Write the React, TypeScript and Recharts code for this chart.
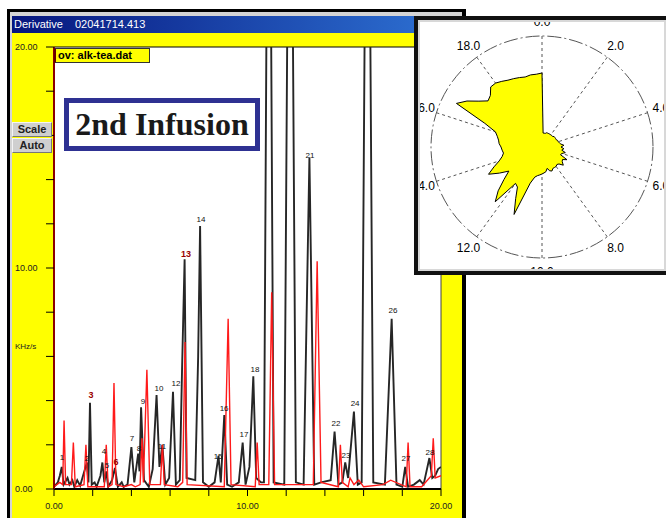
import React from "react";
import {
  ComposedChart,
  Line,
  Scatter,
  XAxis,
  YAxis,
  CartesianGrid,
  ReferenceLine,
  RadarChart,
  Radar,
  PolarGrid,
  PolarAngleAxis,
  PolarRadiusAxis,
} from "recharts";

// black trace: retention time (min) / derivative (KHz/s)
const blackTimes = [
  0, 0.2, 0.3, 0.4, 0.5, 0.7, 0.8, 0.95, 1.05, 1.2, 1.35, 1.5,
  1.7, 1.78, 1.86, 1.95, 2.1, 2.2, 2.4, 2.5, 2.6, 2.7, 2.8, 3.0, 3.15, 3.3,
  3.5, 3.6, 3.8, 4.0, 4.15, 4.35, 4.42, 4.5, 4.65, 4.9, 5.1, 5.3, 5.45, 5.6, 5.75,
  5.95, 6.15, 6.3, 6.5, 6.62, 6.75, 6.85, 7.3, 7.45, 7.55, 7.7, 8.0,
  8.3, 8.5, 8.62, 8.8, 8.95, 9.2, 9.55, 9.75, 9.9, 10.1, 10.3, 10.45, 10.7,
  10.85, 11.1, 11.35, 11.9, 12.2, 12.5, 12.9, 13.2, 13.45, 13.8,
  14.3, 14.5, 14.7, 14.9, 15.05, 15.2, 15.5, 15.7, 15.9, 16.2, 16.5,
  17.1, 17.45, 17.7, 18.0, 18.15, 18.3, 18.6, 18.9, 19.1, 19.4, 19.55, 19.7, 19.85, 20,
];
const blackValues = [
  0.1, 0.3, 0.6, 1.0, 0.2, 0.5, 0.2, 0.4, 0.1, 0.4, 0.15, 0.6,
  1.2, 0.3, 3.9, 0.2, 0.3, 0.1, 0.6, 1.2, 0.3, 0.8, 0.1, 0.4, 0.95, 0.1,
  0.3, 0.1, 0.2, 1.9, 0.3, 1.6, 0.8, 3.7, 0.4, 0.1, 0.9, 4.25, 1.0, 2.0, 0.2,
  0.5, 4.4, 0.2, 0.4, 5.5, 10.4, 0.5, 0.4, 6.0, 11.9, 0.3, 0.1,
  0.3, 1.5, 0.3, 3.35, 0.2, 0.1, 0.3, 2.1, 0.2, 1.0, 5.1, 0.5, 0.3,
  0.3, 40, 0.3, 0.2, 40, 0.3, 0.2, 15.0, 0.2, 0.3,
  0.4, 2.6, 0.2, 0.3, 1.2, 0.5, 3.5, 0.2, 0.3, 40, 0.3,
  0.2, 7.7, 0.2, 0.1, 1.0, 0.1, 0.2, 0.4, 0.2, 1.4, 0.5, 0.6, 0.9, 1.0,
];

// red trace
const redTimes = [
  0, 0.3, 0.45, 0.52, 0.6, 0.9, 1.0, 1.1, 1.55, 1.65, 1.75, 2.0,
  2.6, 2.7, 2.8, 3.0, 3.1, 3.2, 3.6, 4.0, 4.2, 4.45, 4.55, 4.62, 4.8, 4.95,
  5.5, 5.6, 5.7, 6.4, 6.65, 6.77, 6.88, 8.8, 9.0, 9.15, 10.4, 10.5, 10.6,
  11.1, 11.25, 11.4, 13.4, 13.6, 13.8, 14.7, 14.8, 14.9,
  15.2, 15.3, 15.5, 15.75, 16.0, 17.0, 17.4, 18.2, 18.3, 18.4, 19.0, 19.5, 19.6, 19.7, 20,
];
const redValues = [
  0.1, 0.3, 0.2, 3.1, 0.2, 0.2, 2.1, 0.1, 0.2, 2.0, 0.1, 0.1,
  0.1, 2.0, 0.1, 0.2, 4.8, 0.2, 0.1, 0.2, 0.1, 0.2, 2.3, 0.3, 5.4, 0.2,
  0.2, 2.0, 0.2, 0.1, 0.3, 6.65, 0.2, 0.1, 7.7, 0.2, 0.1, 2.1, 0.2,
  0.2, 8.9, 0.2, 0.2, 10.3, 0.3, 0.1, 2.0, 0.3,
  0.1, 0.5, 0.2, 0.4, 0.1, 0.2, 0.4, 0.1, 2.1, 0.1, 0.1, 0.6, 2.3, 0.5, 0.6,
];

// peak numbers
const peakNames = ["1", "2", "3", "4", "5", "6", "7", "8", "9", "10", "11", "12", "13", "14", "15", "16", "17", "18", "21", "22", "23", "24", "26", "27", "28"];
const peakTimes = [0.41, 1.7, 1.91, 2.58, 2.74, 3.2, 4.03, 4.39, 4.6, 5.43, 5.58, 6.3, 6.82, 7.6, 8.48, 8.79, 9.82, 10.39, 13.23, 14.57, 15.09, 15.56, 17.52, 18.19, 19.43];
const peakTops = [1.13, 1.09, 3.94, 1.4, 0.77, 0.9, 1.99, 1.54, 3.67, 4.25, 1.63, 4.48, 10.3, 11.9, 1.18, 3.35, 2.17, 5.1, 14.8, 2.67, 1.22, 3.57, 7.8, 1.09, 1.36];
const redPeakNames = ["3", "6", "13"];

const axisTicks = [0, 2, 4, 6, 8, 10, 12, 14, 16, 18, 20];

// polar inset: radius of the profile, every 0.25 around 0..20
const polarStep = 0.25;
const polarRadius = [
  74, 14, 14, 14, 15, 15, 15, 15, 15, 15, 15, 16, 16, 16, 16, 17, 17, 18, 19, 22,
  19, 22, 20, 24, 21, 20, 28, 24, 25, 28, 24, 23, 24, 24, 24, 26, 25, 22, 25, 26,
  27, 28, 29, 31, 38, 73, 58, 47, 45, 72, 62, 50, 41, 50, 60, 52, 45, 41, 39, 40,
  41, 43, 44, 46, 49, 62, 96, 88, 78, 71, 73, 79, 79, 77, 75, 74, 73, 72, 73, 73,
];
const polarSpokes = [90, 54, 18, -18, -54, -90, -126, -162, -198, -234];

const blackData = blackTimes.map((t, i) => ({ t, v: blackValues[i] }));
const redData = redTimes.map((t, i) => ({ t, v: redValues[i] }));
const labelData = peakNames.map((name, i) => ({ t: peakTimes[i], v: peakTops[i], name }));
const polarData = polarRadius.map((r, i) => ({ t: i * polarStep, r }));

const FONT = '"Liberation Sans", Arial, sans-serif';

const YTick = (props: any) => {
  const { y, payload } = props;
  if (payload.value % 10 !== 0) return <g />;
  return (
    <text x={15} y={y} dominantBaseline="central" fontSize={9} fontFamily={FONT} fill="#222">
      {payload.value.toFixed(2)}
    </text>
  );
};

const XTick = (props: any) => {
  const { x, y, payload } = props;
  if (payload.value % 10 !== 0) return <g />;
  return (
    <text x={x} y={y + 8} textAnchor="middle" dominantBaseline="central" fontSize={9} fontFamily={FONT} fill="#222">
      {payload.value.toFixed(2)}
    </text>
  );
};

const PeakLabel = (props: any) => {
  const { cx, cy, payload } = props;
  const red = redPeakNames.includes(payload.name);
  return (
    <text
      x={cx}
      y={cy - 4}
      textAnchor="middle"
      fontSize={red ? 9 : 8}
      fontWeight={red ? 700 : 400}
      fontFamily={FONT}
      fill={red ? "#990000" : "#111"}
    >
      {payload.name}
    </text>
  );
};

const AngleTick = (props: any) => {
  const { x, y, payload } = props;
  if (payload.value % 2 !== 0) return <g />;
  return (
    <text x={x} y={y} textAnchor="middle" dominantBaseline="central" fontSize={12} fontFamily={FONT} fill="#000">
      {payload.value.toFixed(1)}
    </text>
  );
};

const button: React.CSSProperties = {
  position: "absolute",
  left: 12,
  width: 40,
  height: 15,
  boxSizing: "border-box",
  background: "#cfcfcf",
  borderTop: "1px solid #f4f4f4",
  borderLeft: "1px solid #f4f4f4",
  borderBottom: "1px solid #777",
  borderRight: "1px solid #777",
  font: `bold 11px ${FONT}`,
  color: "#222",
  textAlign: "center",
  lineHeight: "13px",
};

export default function App() {
  return (
    <div style={{ position: "fixed", left: 0, top: 0, width: 666, height: 518, overflow: "hidden", background: "#fff" }}>
      {/* main window */}
      <div style={{ position: "absolute", left: 7, top: 9, width: 459, height: 520, background: "#000" }} />
      <div style={{ position: "absolute", left: 10, top: 12, width: 452, height: 520, background: "#d4d4d4" }} />
      <div
        style={{
          position: "absolute",
          left: 12,
          top: 16,
          width: 450,
          height: 17,
          background: "linear-gradient(to right, #06167e, #2f74d6)",
          color: "#fff",
          font: `11px ${FONT}`,
          lineHeight: "17px",
          whiteSpace: "pre",
        }}
      >
        <span style={{ position: "absolute", left: 2 }}>Derivative</span>
        <span style={{ position: "absolute", left: 63 }}>02041714.413</span>
      </div>
      <div style={{ position: "absolute", left: 12, top: 33, width: 450, height: 490, background: "#ffff00" }} />

      <div style={{ position: "absolute", left: 0, top: 30 }}>
        <ComposedChart width={466} height={488} margin={{ top: 17, right: 25, bottom: 4, left: 0 }}>
          <CartesianGrid fill="#ffffff" horizontal={false} vertical={false} />
          <XAxis
            dataKey="t"
            type="number"
            domain={[0, 20]}
            ticks={axisTicks}
            allowDataOverflow
            height={25}
            tickSize={7}
            axisLine={{ stroke: "#000", strokeWidth: 2 }}
            tickLine={{ stroke: "#000" }}
            tick={XTick}
          />
          <YAxis
            type="number"
            domain={[0, 20]}
            ticks={axisTicks}
            allowDataOverflow
            width={54}
            tickSize={8}
            axisLine={{ stroke: "#8b0000", strokeWidth: 2 }}
            tickLine={{ stroke: "#000" }}
            tick={YTick}
          />
          <ReferenceLine y={20} stroke="#000" />
          <ReferenceLine x={20} stroke="#444" />
          <Line data={blackData} dataKey="v" type="linear" stroke="#262626" strokeWidth={1.9} dot={false} activeDot={false} isAnimationActive={false} />
          <Line data={redData} dataKey="v" type="linear" stroke="#ff1a1a" strokeWidth={1.4} dot={false} activeDot={false} isAnimationActive={false} />
          <Scatter data={labelData} dataKey="v" shape={PeakLabel} isAnimationActive={false} />
        </ComposedChart>
      </div>

      <div style={{ position: "absolute", left: 15, top: 342, font: `8px ${FONT}`, color: "#222" }}>KHz/s</div>

      <div style={{ ...button, top: 122 }}>Scale</div>
      <div style={{ ...button, top: 138 }}>Auto</div>

      <div
        style={{
          position: "absolute",
          left: 54,
          top: 48,
          width: 96,
          height: 15,
          boxSizing: "border-box",
          background: "#ffff00",
          border: "1px solid #333",
          borderLeft: "2px solid #600",
          font: `bold 11px ${FONT}`,
          lineHeight: "13px",
          paddingLeft: 2,
          color: "#000",
          whiteSpace: "nowrap",
          overflow: "hidden",
        }}
      >
        ov: alk-tea.dat
      </div>

      <div
        style={{
          position: "absolute",
          left: 64,
          top: 98,
          width: 196,
          height: 53,
          boxSizing: "border-box",
          border: "5px solid #2e3192",
          background: "#fff",
          display: "flex",
          alignItems: "center",
          justifyContent: "center",
          font: `bold 32px "Liberation Serif", "Times New Roman", serif`,
          color: "#1a1a1a",
          whiteSpace: "nowrap",
        }}
      >
        2nd Infusion
      </div>

      {/* polar inset */}
      <div
        style={{
          position: "absolute",
          left: 414,
          top: 16,
          width: 256,
          height: 259,
          boxSizing: "border-box",
          border: "4px solid #111",
          background: "#d8d8d8",
        }}
      >
        <div style={{ position: "absolute", left: 2, top: 2, width: 244, height: 247, background: "#fff", overflow: "hidden" }}>
          <RadarChart width={244} height={247} cx={122} cy={125} outerRadius={111} data={polarData} margin={{ top: 0, right: 0, bottom: 0, left: 0 }}>
            <PolarGrid gridType="circle" polarAngles={polarSpokes} polarRadius={[]} stroke="#555" strokeDasharray="3 3" />
            <PolarGrid gridType="circle" radialLines={false} polarAngles={[]} polarRadius={[111]} stroke="#555" strokeDasharray="14 3 2 3" />
            <PolarAngleAxis dataKey="t" type="category" tick={AngleTick} tickLine={false} axisLine={false} tickSize={14} />
            <PolarRadiusAxis type="number" domain={[0, 111]} tick={false} axisLine={false} />
            <Radar dataKey="r" fill="#ffff00" fillOpacity={1} stroke="#000" strokeWidth={1} dot={false} isAnimationActive={false} />
          </RadarChart>
        </div>
      </div>
    </div>
  );
}
